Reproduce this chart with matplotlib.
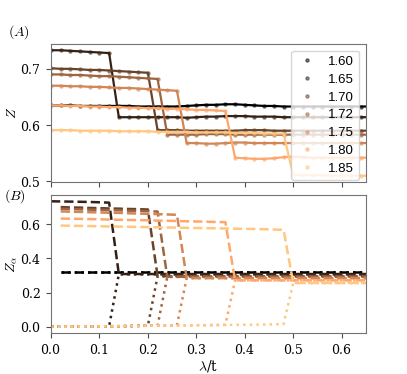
import numpy as np
import matplotlib
matplotlib.use("Agg")
import matplotlib.pyplot as plt

plt.rcParams['mathtext.fontset'] = 'cm'
plt.rcParams['font.family'] = 'serif'
plt.rcParams['font.serif'] = ['DejaVu Serif']
plt.rcParams['axes.formatter.use_mathtext'] = True

# lambda/t grid
x = [0.00, 0.02, 0.04, 0.06, 0.08, 0.10, 0.12, 0.14, 0.16, 0.18, 0.20, 0.22,
     0.24, 0.26, 0.28, 0.30, 0.32, 0.34, 0.36, 0.38, 0.40, 0.42, 0.44, 0.46,
     0.48, 0.50, 0.52, 0.54, 0.56, 0.58, 0.60, 0.62, 0.64, 0.66]

labels = ['1.60', '1.65', '1.70', '1.72', '1.75', '1.80', '1.85']

# total Z (panel A)
z_160 = [0.635, 0.635, 0.635, 0.634, 0.634, 0.634, 0.634, 0.634, 0.634, 0.633, 0.633, 0.633,
         0.633, 0.633, 0.634, 0.635, 0.636, 0.636, 0.637, 0.637, 0.636, 0.635, 0.634, 0.634,
         0.633, 0.633, 0.633, 0.633, 0.633, 0.633, 0.633, 0.633, 0.633, 0.633]
z_165 = [0.733, 0.733, 0.732, 0.731, 0.730, 0.729, 0.728, 0.614, 0.614, 0.614, 0.614, 0.614,
         0.614, 0.614, 0.613, 0.614, 0.615, 0.615, 0.616, 0.616, 0.616, 0.615, 0.615, 0.615,
         0.614, 0.614, 0.614, 0.614, 0.614, 0.614, 0.614, 0.614, 0.614, 0.614]
z_170 = [0.701, 0.700, 0.700, 0.699, 0.698, 0.698, 0.697, 0.696, 0.695, 0.694, 0.693, 0.591,
         0.591, 0.591, 0.590, 0.590, 0.590, 0.590, 0.590, 0.590, 0.591, 0.591, 0.591, 0.590,
         0.590, 0.590, 0.590, 0.590, 0.590, 0.590, 0.590, 0.590, 0.590, 0.590]
z_172 = [0.690, 0.690, 0.689, 0.689, 0.688, 0.687, 0.687, 0.686, 0.685, 0.684, 0.683, 0.682,
         0.583, 0.583, 0.583, 0.583, 0.584, 0.584, 0.584, 0.583, 0.583, 0.583, 0.583, 0.583,
         0.583, 0.583, 0.583, 0.583, 0.583, 0.583, 0.583, 0.583, 0.583, 0.583]
z_175 = [0.670, 0.670, 0.669, 0.669, 0.668, 0.668, 0.667, 0.666, 0.666, 0.665, 0.664, 0.663,
         0.662, 0.661, 0.568, 0.568, 0.567, 0.567, 0.568, 0.569, 0.569, 0.568, 0.568, 0.568,
         0.568, 0.568, 0.568, 0.568, 0.568, 0.568, 0.568, 0.568, 0.568, 0.568]
z_180 = [0.635, 0.635, 0.634, 0.634, 0.633, 0.633, 0.632, 0.632, 0.631, 0.631, 0.630, 0.630,
         0.629, 0.629, 0.628, 0.627, 0.627, 0.626, 0.625, 0.542, 0.541, 0.540, 0.540, 0.541,
         0.543, 0.544, 0.543, 0.542, 0.542, 0.542, 0.542, 0.542, 0.542, 0.542]
z_185 = [0.591, 0.591, 0.591, 0.590, 0.590, 0.590, 0.590, 0.589, 0.589, 0.589, 0.589, 0.588,
         0.588, 0.588, 0.588, 0.587, 0.587, 0.587, 0.587, 0.586, 0.586, 0.586, 0.585, 0.585,
         0.585, 0.511, 0.511, 0.511, 0.511, 0.510, 0.510, 0.510, 0.510, 0.510]

# component Z_alpha, first sublattice (dashed, panel B)
za_160 = [np.nan, 0.318, 0.318, 0.318, 0.318, 0.318, 0.318, 0.318, 0.318, 0.318, 0.318, 0.318,
          0.318, 0.318, 0.318, 0.318, 0.318, 0.318, 0.318, 0.318, 0.318, 0.318, 0.318, 0.318,
          0.318, 0.318, 0.318, 0.318, 0.318, 0.318, 0.318, 0.318, 0.318, 0.318]
za_165 = [0.733, 0.732, 0.731, 0.730, 0.729, 0.727, 0.725, 0.308, 0.308, 0.308, 0.308, 0.308,
          0.308, 0.308, 0.308, 0.308, 0.308, 0.308, 0.308, 0.308, 0.308, 0.308, 0.308, 0.308,
          0.308, 0.308, 0.308, 0.308, 0.308, 0.308, 0.308, 0.308, 0.308, 0.308]
za_170 = [np.nan, 0.699, 0.697, 0.696, 0.694, 0.693, 0.691, 0.690, 0.688, 0.687, 0.685, 0.296,
          0.296, 0.296, 0.296, 0.296, 0.296, 0.296, 0.296, 0.296, 0.296, 0.296, 0.296, 0.296,
          0.296, 0.296, 0.296, 0.296, 0.296, 0.296, 0.296, 0.296, 0.296, 0.296]
za_172 = [np.nan, 0.689, 0.687, 0.686, 0.684, 0.683, 0.681, 0.680, 0.678, 0.677, 0.675, 0.673,
          0.292, 0.292, 0.292, 0.292, 0.292, 0.292, 0.292, 0.292, 0.292, 0.292, 0.292, 0.292,
          0.292, 0.292, 0.292, 0.292, 0.292, 0.292, 0.292, 0.292, 0.292, 0.292]
za_175 = [np.nan, 0.674, 0.672, 0.671, 0.669, 0.668, 0.666, 0.665, 0.663, 0.661, 0.660, 0.658,
          0.656, 0.654, 0.284, 0.284, 0.284, 0.284, 0.284, 0.284, 0.284, 0.284, 0.284, 0.284,
          0.284, 0.284, 0.284, 0.284, 0.284, 0.284, 0.284, 0.284, 0.284, 0.284]
za_180 = [np.nan, 0.632, 0.631, 0.630, 0.629, 0.628, 0.626, 0.625, 0.624, 0.623, 0.622, 0.620,
          0.619, 0.618, 0.616, 0.615, 0.614, 0.612, 0.611, 0.271, 0.271, 0.271, 0.271, 0.271,
          0.271, 0.271, 0.271, 0.271, 0.271, 0.271, 0.271, 0.271, 0.271, 0.271]
za_185 = [np.nan, 0.591, 0.590, 0.589, 0.588, 0.587, 0.586, 0.585, 0.584, 0.583, 0.582, 0.581,
          0.580, 0.579, 0.578, 0.577, 0.576, 0.575, 0.574, 0.573, 0.572, 0.571, 0.570, 0.568,
          0.566, 0.256, 0.256, 0.256, 0.256, 0.256, 0.256, 0.256, 0.256, 0.256]

# component Z_alpha, second sublattice (dotted, panel B)
zb_160 = [np.nan, 0.318, 0.318, 0.318, 0.318, 0.318, 0.318, 0.318, 0.318, 0.318, 0.318, 0.318,
          0.318, 0.318, 0.318, 0.318, 0.318, 0.318, 0.318, 0.318, 0.318, 0.318, 0.318, 0.318,
          0.318, 0.318, 0.318, 0.318, 0.318, 0.318, 0.318, 0.318, 0.318, 0.318]
zb_165 = [0.000, 0.000, 0.001, 0.001, 0.002, 0.002, 0.003, 0.306, 0.306, 0.306, 0.306, 0.306,
          0.306, 0.306, 0.306, 0.306, 0.306, 0.306, 0.306, 0.306, 0.306, 0.306, 0.306, 0.306,
          0.306, 0.306, 0.306, 0.306, 0.306, 0.306, 0.306, 0.306, 0.306, 0.306]
zb_170 = [0.000, 0.000, 0.001, 0.001, 0.002, 0.002, 0.003, 0.003, 0.004, 0.005, 0.006, 0.295,
          0.295, 0.295, 0.295, 0.295, 0.295, 0.295, 0.295, 0.295, 0.295, 0.295, 0.295, 0.295,
          0.295, 0.295, 0.295, 0.295, 0.295, 0.295, 0.295, 0.295, 0.295, 0.295]
zb_172 = [0.000, 0.000, 0.001, 0.001, 0.002, 0.002, 0.003, 0.003, 0.004, 0.005, 0.006, 0.007,
          0.291, 0.291, 0.291, 0.291, 0.291, 0.291, 0.291, 0.291, 0.291, 0.291, 0.291, 0.291,
          0.291, 0.291, 0.291, 0.291, 0.291, 0.291, 0.291, 0.291, 0.291, 0.291]
zb_175 = [0.000, 0.000, 0.001, 0.001, 0.002, 0.002, 0.003, 0.003, 0.004, 0.005, 0.006, 0.007,
          0.007, 0.008, 0.284, 0.284, 0.284, 0.284, 0.284, 0.284, 0.284, 0.284, 0.284, 0.284,
          0.284, 0.284, 0.284, 0.284, 0.284, 0.284, 0.284, 0.284, 0.284, 0.284]
zb_180 = [0.000, 0.000, 0.001, 0.001, 0.002, 0.002, 0.003, 0.003, 0.004, 0.005, 0.006, 0.007,
          0.007, 0.008, 0.008, 0.009, 0.009, 0.010, 0.011, 0.271, 0.271, 0.271, 0.271, 0.271,
          0.271, 0.271, 0.271, 0.271, 0.271, 0.271, 0.271, 0.271, 0.271, 0.271]
zb_185 = [0.000, 0.000, 0.001, 0.001, 0.002, 0.002, 0.003, 0.003, 0.004, 0.005, 0.006, 0.007,
          0.007, 0.008, 0.008, 0.009, 0.009, 0.010, 0.011, 0.011, 0.012, 0.012, 0.013, 0.014,
          0.015, 0.255, 0.255, 0.255, 0.255, 0.255, 0.255, 0.255, 0.255, 0.255]

z_all = [z_160, z_165, z_170, z_172, z_175, z_180, z_185]
za_all = [za_160, za_165, za_170, za_172, za_175, za_180, za_185]
zb_all = [zb_160, zb_165, zb_170, zb_172, zb_175, zb_180, zb_185]

colors = plt.cm.copper(np.linspace(0, 1, len(labels)))

fig = plt.figure(figsize=(4.07, 3.74), dpi=100)
ax1 = fig.add_axes([0.1253, 0.5134, 0.7737, 0.369])
ax2 = fig.add_axes([0.1253, 0.1096, 0.7737, 0.369])

for i in range(len(labels)):
    ax1.plot(x, z_all[i], '-', color=colors[i], lw=1.6)
    ax1.plot(x, z_all[i], '.', color=colors[i], ms=4.5, alpha=0.5, label=labels[i])
    ax2.plot(x, za_all[i], '--', color=colors[i], lw=1.8)
    ax2.plot(x, zb_all[i], ':', color=colors[i], lw=1.8)

for ax in (ax1, ax2):
    ax.set_xlim(0, 0.65)
    ax.tick_params(labelsize=9, length=3.5, color='0.3')
    for s in ax.spines.values():
        s.set_color('0.45')
ax1.set_xticks([0.0, 0.1, 0.2, 0.3, 0.4, 0.5, 0.6])
ax1.set_xticklabels([])
ax1.set_yticks([0.5, 0.6, 0.7])
ax2.set_yticks([0.0, 0.2, 0.4, 0.6])

ax1.set_ylabel(r'$Z$', fontsize=10, labelpad=1)
ax2.set_ylabel(r'$Z_\alpha$', fontsize=10, labelpad=1)
ax2.set_xlabel(r'$\lambda$/t', fontsize=10, labelpad=1)

ax1.legend(loc='upper right', prop={'family': 'Liberation Sans', 'size': 9.5},
           labelspacing=0.42, handlelength=1.6, handletextpad=0.8, borderpad=0.4)

fig.text(0.02, 0.905, r'$(A)$', fontsize=10)
fig.text(0.01, 0.466, r'$(B)$', fontsize=10)

fig.savefig('out.png', dpi=100)
